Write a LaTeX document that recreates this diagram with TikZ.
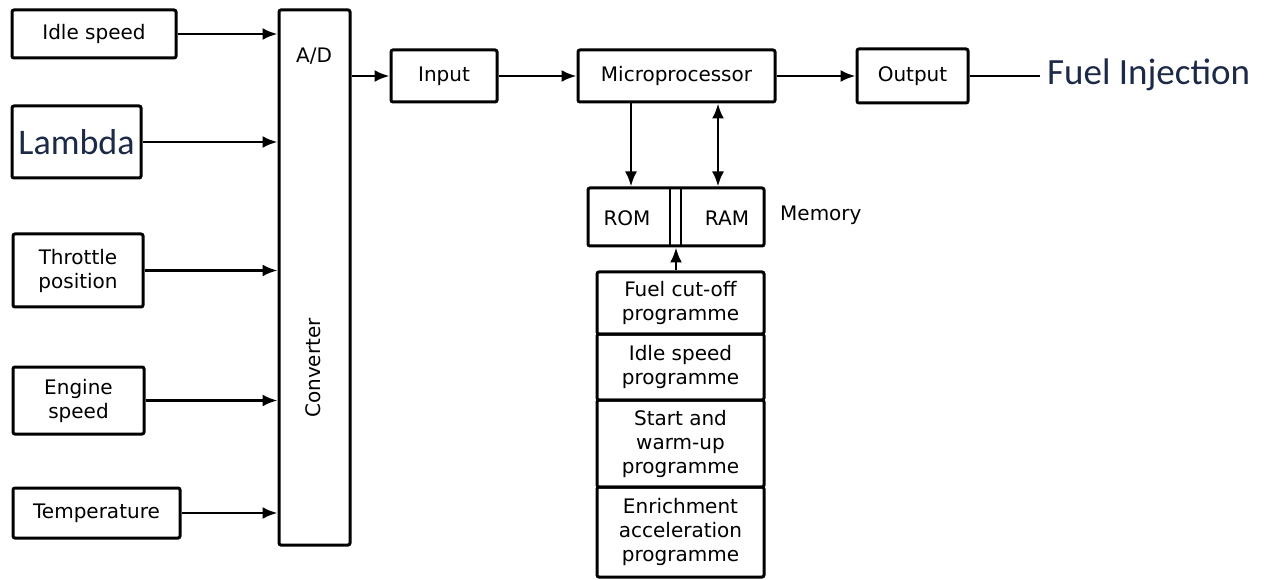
\documentclass[tikz,border=0pt]{standalone}
\usepackage{fontspec}
\setmainfont{DejaVu Sans}
\newfontfamily\calib{Carlito}
\usetikzlibrary{arrows.meta,calc}
\definecolor{navy}{HTML}{1C2A48}
\begin{document}
\begin{tikzpicture}[x=1pt,y=-1pt,
  blk/.style={draw,line width=3pt,rounded corners=2pt,inner sep=0pt,align=center,
    font=\fontsize{20}{24}\selectfont},
  arr/.style={line width=2.5pt,-{Latex[length=15pt,width=12pt]}},
  darr/.style={line width=2.5pt,{Latex[length=15pt,width=12pt]}-{Latex[length=15pt,width=12pt]}},
  lbl/.style={inner sep=0pt,font=\fontsize{20}{24}\selectfont}]
\useasboundingbox (0,0) rectangle (1270,580);
% inputs
\node[blk,minimum width=164pt,minimum height=48pt] (idle) at (94,34) {Idle speed};
\node[blk,minimum width=129pt,minimum height=72pt,font=\calib\fontsize{36}{40}\selectfont,text=navy] (lambda) at (76.5,142) {Lambda};
\node[blk,minimum width=130pt,minimum height=73pt] (thr) at (78,270.5) {Throttle\\position};
\node[blk,minimum width=131pt,minimum height=67pt] (eng) at (78.5,400.5) {Engine\\speed};
\node[blk,minimum width=167pt,minimum height=50pt] (temp) at (96.5,513) {Temperature};
% converter
\node[blk,minimum width=71pt,minimum height=535pt] (conv) at (314.5,277.5) {};
\node[lbl] (ad) at (314,56) {A/D};
\node[lbl,rotate=90] (cvt) at (313,368) {Converter};
\foreach \n in {idle,lambda,thr,eng,temp}
  \draw[arr] (\n.east) -- (\n.east -| conv.west);
% main chain
\node[blk,minimum width=106pt,minimum height=52pt] (inp) at (444,76) {Input};
\node[blk,minimum width=197pt,minimum height=52pt] (mp) at (676.5,76) {Microprocessor};
\node[blk,minimum width=111pt,minimum height=54pt] (out) at (912.5,76) {Output};
\draw[arr] (inp.west -| conv.east) -- (inp.west);
\draw[arr] (inp.east) -- (mp.west);
\draw[arr] (mp.east) -- (out.west);
\coordinate (fi) at (1040,76);
\draw[line width=1.8pt] (out.east) -- (fi);
\node[anchor=west,inner sep=0pt,font=\calib\fontsize{37}{40}\selectfont,text=navy] (fuel) at (1047,75) {Fuel Injection};
% memory
\node[blk,minimum width=176pt,minimum height=58pt] (memb) at (676,217) {};
\draw[line width=2.5pt] (670,188) -- (670,246) (681,188) -- (681,246);
\node[lbl] (rom) at (627,218) {ROM};
\node[lbl] (ram) at (727,218) {RAM};
\node[lbl,anchor=west] (mem) at (780,215) {Memory};
\draw[arr] (mp.south -| 631,0) -- (memb.north -| 631,0);
\draw[darr] (mp.south -| 718,0) -- (memb.north -| 718,0);
% programmes
\node[blk,minimum width=167pt,minimum height=62pt] (p1) at (680.5,303) {Fuel cut-off\\programme};
\node[blk,minimum width=167pt,minimum height=66pt] (p2) at (680.5,367) {Idle speed\\programme};
\node[blk,minimum width=167pt,minimum height=87pt] (p3) at (680.5,443.5) {Start and\\warm-up\\programme};
\node[blk,minimum width=167pt,minimum height=90pt] (p4) at (680.5,532) {Enrichment\\acceleration\\programme};
\draw[arr] (p1.north -| 676,0) -- (memb.south -| 676,0);
\end{tikzpicture}
\end{document}
